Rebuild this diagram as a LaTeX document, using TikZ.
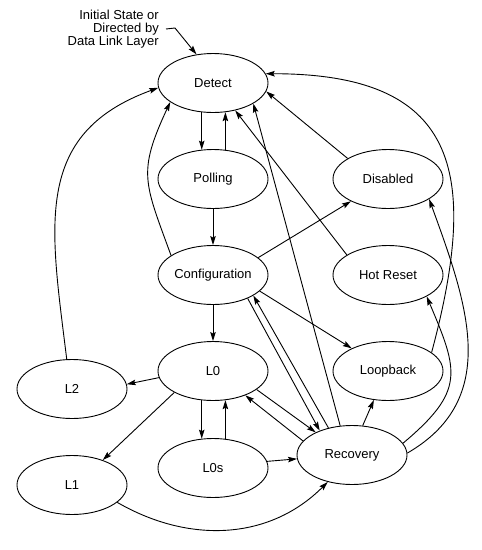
\documentclass[tikz,border=0pt]{standalone}
\usepackage{fontspec}
\setmainfont{Liberation Sans}
\usetikzlibrary{shapes.geometric,arrows.meta}

\begin{document}
\begin{tikzpicture}[x=1pt, y=1pt,
		every node/.style={font=\fontsize{13}{13.3}\selectfont},
		statenode/.style={draw, ellipse, line width=0.9pt, minimum width=110pt, minimum height=59pt, inner sep=0pt, inner xsep=-4pt},
		trans/.style={line width=0.9pt, -{Stealth[length=9pt,width=5.5pt,inset=1.5pt]}}]
			%%%%% START %%%%%
			
			\useasboundingbox (0,0) rectangle (482,-550);
			
			\node[anchor=east, align=right, inner sep=0pt] (init) at (159,-29) {Initial State or\\Directed by\\Data Link Layer};
			\coordinate (ibend) at (175,-28);
			
			\node[statenode] (det) at (213,-83) {Detect};
			\node[statenode] (pol) at (213,-179) {Polling};
			\node[statenode] (dis) at (388,-179) {Disabled};
			\node[statenode] (cfg) at (213,-275) {Configuration};
			\node[statenode] (hot) at (388,-275) {Hot Reset};
			\node[statenode] (lz) at (213,-371) {L0};
			\node[statenode] (lb) at (388,-371) {Loopback};
			\node[statenode] (ltwo) at (72,-389) {L2};
			\node[statenode] (lzs) at (213,-468) {L0s};
			\node[statenode] (lone) at (72,-485) {L1};
			\node[statenode] (rec) at (352,-455) {Recovery};
			
			\draw[trans] ([xshift=7pt]init.east) -- (ibend) -- (det.120);
			
			\draw[trans] (det.249) -- (pol.111);
			\draw[trans] (pol.67) -- (det.293);
			\draw[trans] (pol.south) -- (cfg.north);
			\draw[trans] (cfg.south) -- (lz.north);
			\draw[trans] (lz.249) -- (lzs.111);
			\draw[trans] (lzs.67) -- (lz.293);
			
			\draw[trans] (lz.187) -- (ltwo.5);
			\draw[trans] (lz.209) -- (lone.39);
			\draw[trans] (lzs.7) -- (rec.184);
			\draw[trans] (lone.339) to[out=-30, in=225] (rec.228);
			\draw[trans] (lz.337) -- (rec.148);
			\draw[trans] (rec.164) -- (lz.323);
			
			\draw[trans] (cfg.326) -- (rec.143);
			\draw[trans] (rec.131) -- (cfg.333);
			\draw[trans] (cfg.341) -- (lb.148);
			\draw[trans] (cfg.21) -- (dis.211);
			\draw[trans] (rec.70) -- (lb.244);
			
			\draw[trans] (cfg.155) to[out=110, in=245, looseness=1.3] (det.204);
			\draw[trans] (ltwo.100) to[out=97, in=200, looseness=1.2] (det.185);
			\draw[trans] (rec.112) -- (det.333);
			\draw[trans] (hot.154) -- (det.309);
			\draw[trans] (dis.153) -- (det.351);
			\draw[trans] (lb.23) to[out=75, in=0, looseness=1.5] (det.10);
			
			\draw[trans] (rec.2) to[out=30, in=290, looseness=1.1] (dis.334);
			\draw[trans] (rec.13) to[out=40, in=293, looseness=1.4] (hot.331);
			
			%%%%% END %%%%%
		\end{tikzpicture}
\end{document}
